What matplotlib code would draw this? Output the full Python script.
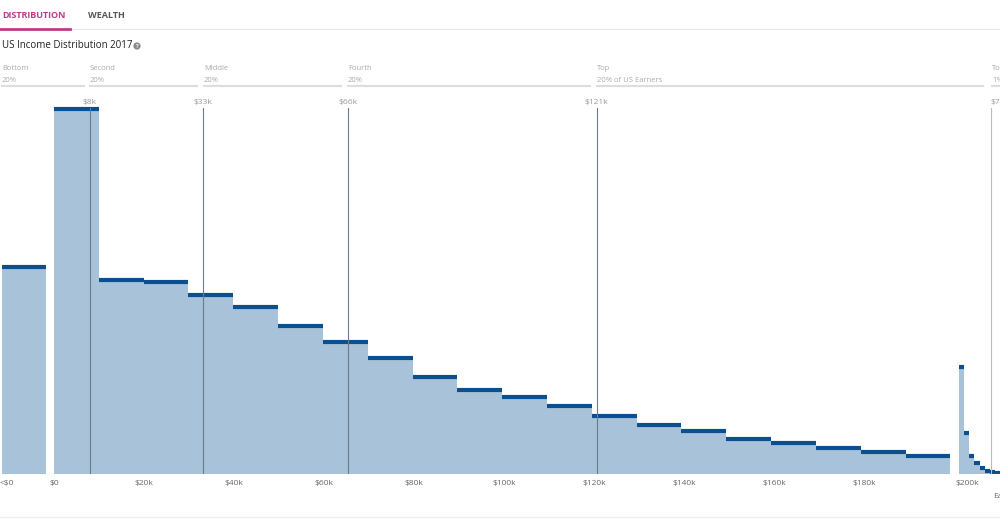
import matplotlib
matplotlib.use("Agg")
import matplotlib.pyplot as plt
from matplotlib.lines import Line2D

plt.rcParams['font.family'] = ['Open Sans', 'DejaVu Sans']

# Income brackets ($k): start, share (relative units)
bin_starts = [0, 10, 20, 30, 40, 50, 60, 70, 80, 90, 100, 110, 120, 130, 140, 150, 160, 170, 180, 190]
shares = [7.30, 3.88, 3.84, 3.58, 3.34, 2.96, 2.64, 2.32, 1.94, 1.68, 1.54, 1.36, 1.16, 0.98, 0.86, 0.70, 0.62, 0.52, 0.44, 0.36]
neg_share = 4.14
top_shares = [2.14, 0.82, 0.36, 0.22, 0.12, 0.06, 0.04, 0.02]
percentile_vals = [8, 33, 65.4, 120.6]
percentile_labels = ["$8k", "$33k", "$66k", "$121k"]
tick_vals = [0, 20, 40, 60, 80, 100, 120, 140, 160, 180, 203]
tick_labels = ["$0", "$20k", "$40k", "$60k", "$80k", "$100k", "$120k", "$140k", "$160k", "$180k", "$200k"]
groups = [("Bottom", "20%"), ("Second", "20%"), ("Middle", "20%"), ("Fourth", "20%"), ("Top", "20% of US Earners"), ("To", "1%")]
group_px = [(2, 84), (90, 197), (204, 341), (348, 590), (597, 983), (992, 1000)]

W, H = 1000, 520
fig = plt.figure(figsize=(10, 5.2), dpi=100)
def fx(x): return x / W
def fy(y): return 1 - y / H

ax = fig.add_axes([0, fy(474), 1, fy(100) - fy(474)])
k0 = -54 / 4.5
ax.set_xlim(k0, k0 + W / 4.5)
ax.set_ylim(0, (474 - 100) / 50)
ax.axis('off')

fill = '#a7c2d9'
edge = '#0b4f8f'
def bar(x0, w, h):
    ax.bar(x0, h, width=w, align='edge', color=fill, linewidth=0)
    ax.plot([x0, x0 + w], [h, h], color=edge, lw=3, solid_capstyle='butt')

bar(-11.6, 9.8, neg_share)
for s, h in zip(bin_starts, shares):
    bar(s * 0.996, 9.96, h)
for i, h in enumerate(top_shares):
    bar(201.1 + i * 1.15, 1.15, h)

for v, lab in zip(percentile_vals, percentile_labels):
    ax.plot([v, v], [0, (474 - 108) / 50], color='#6b7b8c', lw=0.8, zorder=5)
    ax.text(v, (474 - 102) / 50, lab, ha='center', va='center', fontsize=6, color='#9a9a9a', clip_on=False)
ax.plot([208.2, 208.2], [0, (474 - 108) / 50], color='#bbbbbb', lw=0.8)
ax.text(208.2, (474 - 102) / 50, "$745", ha='left', va='center', fontsize=6, color='#9a9a9a', clip_on=False)

for v, lab in zip(tick_vals, tick_labels):
    ax.text(v, -9 / 50, lab, ha='center', va='center', fontsize=6, color='#666666', clip_on=False)
ax.text(-10.5, -9 / 50, "<$0", ha='center', va='center', fontsize=6, color='#666666', clip_on=False)
ax.text(208.7, -23 / 50, "Ea", ha='left', va='center', fontsize=6, color='#666666', clip_on=False)

# header
fig.text(fx(2), fy(16), "DISTRIBUTION", color='#c2398a', fontsize=6.5, fontweight='bold', va='center')
fig.text(fx(88), fy(16), "WEALTH", color='#555555', fontsize=6.5, fontweight='bold', va='center')
fig.add_artist(Line2D([0, 1], [fy(29), fy(29)], color='#e6e6e6', lw=0.8))
fig.add_artist(Line2D([0, fx(70)], [fy(28.5), fy(28.5)], color='#c2398a', lw=2))
fig.text(fx(2), fy(46), "US Income Distribution 2017", color='#222222', fontsize=7, va='center')
fig.text(fx(137), fy(46), "?", color='white', fontsize=4, fontweight='bold', va='center', ha='center',
         bbox=dict(boxstyle='circle,pad=0.2', fc='#8a8a8a', ec='none'))
for (name, pct), (a, b) in zip(groups, group_px):
    fig.text(fx(a), fy(68), name, fontsize=5.5, color='#aaaaaa', va='center')
    fig.text(fx(a), fy(80), pct, fontsize=5.5, color='#aaaaaa', va='center')
    fig.add_artist(Line2D([fx(a), fx(b)], [fy(86), fy(86)], color='#dddddd', lw=1.5))
fig.add_artist(Line2D([0, 1], [fy(517), fy(517)], color='#eeeeee', lw=1))

fig.savefig("out.png", dpi=100, facecolor='white')
